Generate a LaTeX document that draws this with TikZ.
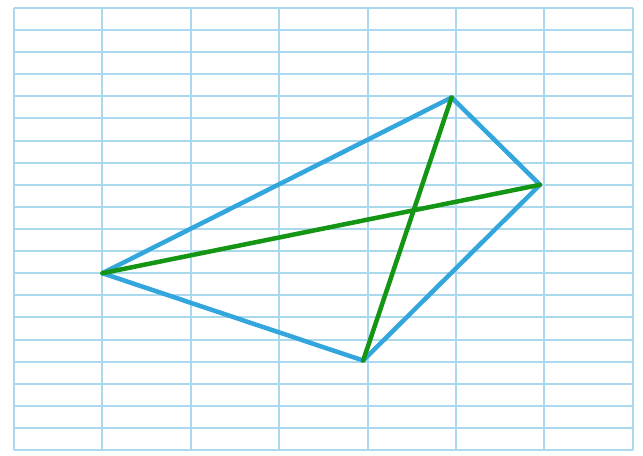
\documentclass[tikz,border=0pt]{standalone}
\usepackage{tikz}
\usetikzlibrary{calc}

\definecolor{gridblue}{RGB}{170,216,236}
\definecolor{edgeblue}{RGB}{52,166,222}
\definecolor{diaggreen}{RGB}{20,150,20}

\begin{document}
\begin{tikzpicture}[
  x=0.5cm, y=0.5cm,
  gridline/.style={draw=gridblue, line width=1.3pt},
  edge/.style={draw=edgeblue, line width=2.9pt, line join=round},
  diag/.style={draw=diaggreen, line width=2.9pt, line cap=round}
]
\useasboundingbox[fill=white] (-0.63,-0.23) rectangle (28.46,20.36);
\draw[gridline] (0,0) grid[xstep=4, ystep=1] (28,20);
\coordinate (left) at (4,8);
\coordinate (bottom) at (15.8,4.05);
\coordinate (top) at (19.8,15.95);
\coordinate (right) at (23.8,12);
\draw[edge] (left) -- (top) -- (right) -- (bottom) -- cycle;
\draw[diag] (left) -- (right);
\draw[diag] (bottom) -- (top);
\end{tikzpicture}
\end{document}
